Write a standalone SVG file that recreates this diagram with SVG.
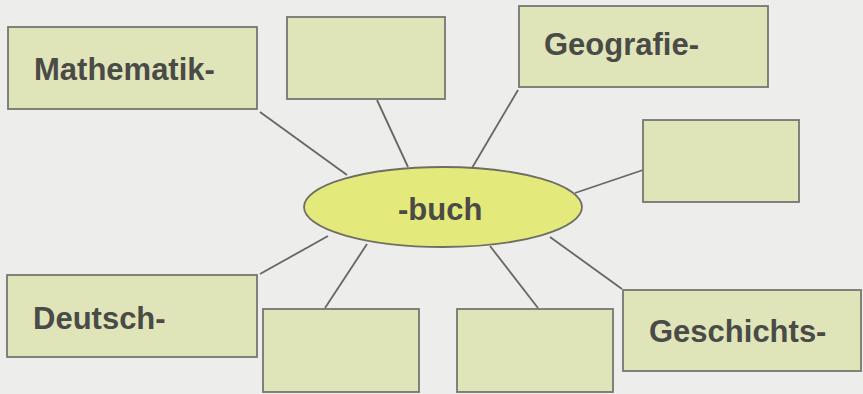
<svg xmlns="http://www.w3.org/2000/svg" width="863" height="394" viewBox="0 0 863 394">
<style>
.box{fill:#dfe5b9;stroke:#77756f;stroke-width:1.8}
.hub{fill:#e4e97c;stroke:#6f6e64;stroke-width:1.8}
.lbl{font-family:"Liberation Sans",Arial,sans-serif;font-weight:bold;font-size:31px;fill:#4a4a47}
.con line{stroke:#68675f;stroke-width:1.8}
</style>
<rect width="863" height="394" fill="#ededeb"/>
<g id="connectors" class="con">
<line x1="260" y1="112" x2="347" y2="175"/>
<line x1="377" y1="100" x2="408" y2="167"/>
<line x1="518" y1="90" x2="472" y2="168"/>
<line x1="643" y1="170" x2="575" y2="193"/>
<line x1="260" y1="274" x2="328" y2="236"/>
<line x1="325" y1="308" x2="367" y2="244"/>
<line x1="538" y1="308" x2="490" y2="246"/>
<line x1="622" y1="289" x2="550" y2="237"/>
</g>
<g id="mathematik"><rect class="box" x="8" y="27" width="249" height="82"/><text class="lbl" x="34" y="80">Mathematik-</text></g>
<g id="blank-top"><rect class="box" x="287" y="17" width="158" height="82"/></g>
<g id="geografie"><rect class="box" x="519" y="6" width="249" height="81"/><text class="lbl" x="544" y="55">Geografie-</text></g>
<g id="blank-right"><rect class="box" x="643" y="120" width="156" height="82"/></g>
<g id="deutsch"><rect class="box" x="7" y="275" width="250" height="82"/><text class="lbl" x="33" y="329">Deutsch-</text></g>
<g id="blank-bottom-1"><rect class="box" x="263" y="309" width="156" height="83"/></g>
<g id="blank-bottom-2"><rect class="box" x="457" y="309" width="156" height="83"/></g>
<g id="geschichts"><rect class="box" x="623" y="290" width="238" height="81"/><text class="lbl" x="649" y="342">Geschichts-</text></g>
<g id="buch"><ellipse class="hub" cx="443" cy="207" rx="139" ry="40"/><text class="lbl" x="398" y="220">-buch</text></g>
</svg>
